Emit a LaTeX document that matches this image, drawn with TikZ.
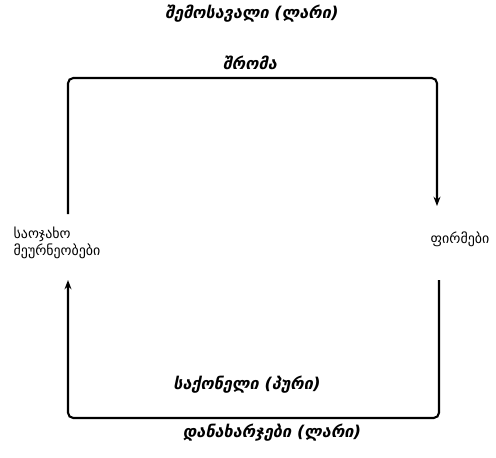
\documentclass[tikz,border=0pt]{standalone}
\usepackage{fontspec}
\newfontfamily\geo{DejaVu Sans}
\usetikzlibrary{arrows.meta}

\begin{document}
\begin{tikzpicture}[x=0.0265cm, y=-0.0265cm,
        flowlabel/.style={font=\geo\bfseries\itshape\fontsize{12.3}{14}\selectfont},
        sector/.style={font=\geo\fontsize{10.5}{13}\selectfont},
        flow/.style={line width=1.6pt, rounded corners=4pt, -{Stealth[length=7pt]}}]
            \useasboundingbox (0, 0) rectangle (496, 457);
            % sectors
            \node[sector, align=left, anchor=west] (hh) at (9, 243) {საოჯახო\\მეურნეობები};
            \node[sector] (firms) at (460, 239) {ფირმები};
            % flow labels
            \node[flowlabel] (income) at (252, 14) {შემოსავალი (ლარი)};
            \node[flowlabel] (labor) at (250, 63) {შრომა};
            \node[flowlabel] (goods) at (247, 385) {საქონელი (პური)};
            \node[flowlabel] (spend) at (272, 433) {დანახარჯები (ლარი)};
            % ends of the loop
            \coordinate (hhup) at (68, 214);
            \coordinate (hhdown) at (68, 280);
            \coordinate (fup) at (437, 206);
            \coordinate (fdown) at (439, 280);
            \draw[flow] (hhup) -- (68, 78) -- (437, 78) -- (fup);
            \draw[flow] (fdown) -- (439, 418) -- (68, 418) -- (hhdown);
        \end{tikzpicture}
\end{document}
